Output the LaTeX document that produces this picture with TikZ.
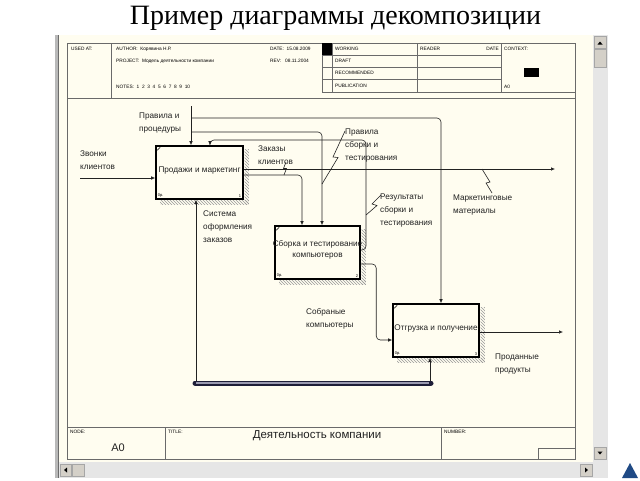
\documentclass[tikz,border=0pt]{standalone}
\usepackage{fontspec}
\setmainfont{Liberation Sans}
\newfontfamily\titlefont{Liberation Serif}
\usetikzlibrary{arrows.meta,patterns,calc}

\definecolor{cream}{HTML}{FFFDF0}
\definecolor{sbgray}{HTML}{E6E6E6}
\definecolor{btn}{HTML}{D4D0C8}
\definecolor{navy}{HTML}{1F4A85}
\definecolor{framecol}{HTML}{6A6A6A}
\definecolor{darkbar}{HTML}{1E1E38}
\definecolor{lightbar}{HTML}{9A9AB0}
\definecolor{ink}{HTML}{222222}

\begin{document}
\begin{tikzpicture}[x=1pt,y=-1pt,
  box/.style={draw=black, line width=1.6pt, fill=cream, inner sep=0pt},
  boxtxt/.style={inner sep=0pt, align=center, font=\fontsize{8.2}{11}\selectfont, text=ink},
  lbl/.style={anchor=north west, inner sep=0pt, align=left, font=\fontsize{8.2}{12.8}\selectfont, text=ink},
  arr/.style={draw=ink, line width=0.6pt, rounded corners=4pt, -{Latex[length=4pt,width=3.5pt]}},
  sq/.style={draw=ink, line width=0.6pt},
  hdr/.style={anchor=west, inner sep=0pt, font=\fontsize{4.8}{5}\selectfont},
  tiny/.style={inner sep=0.5pt, font=\fontsize{4}{4}\selectfont},
  fr/.style={draw=framecol, line width=0.7pt},
  shad/.style={pattern=north west lines, pattern color=gray!80},
  sbbtn/.style={fill=btn, draw=gray!70, line width=0.4pt},
]
\useasboundingbox (0,0) rectangle (640,480);
\fill[white] (0,0) rectangle (640,480);

% title
\node[font=\titlefont\fontsize{28}{30}\selectfont] (title) at (335.5,18) {Пример диаграммы декомпозиции};

% window
\fill[cream] (59,35) rectangle (593,462);
\fill[gray!55] (55,35) rectangle (59,478);
\draw[gray!85!black, line width=0.8pt] (58.6,35) -- (58.6,478);
\fill[sbgray] (593,35) rectangle (608,478);
\fill[sbgray] (59,462) rectangle (593,478);
\draw[sbbtn] (594,36) rectangle (606,48);
\fill (597.5,44.5) -- (602.5,44.5) -- (600,41.5) -- cycle;
\draw[sbbtn] (594,49) rectangle (606,67);
\draw[sbbtn] (594,447) rectangle (606,459);
\fill (597.5,451.5) -- (602.5,451.5) -- (600,454.5) -- cycle;
\draw[sbbtn] (60,464) rectangle (71,476);
\fill (64,470) -- (67,467.5) -- (67,472.5) -- cycle;
\draw[sbbtn] (72,464) rectangle (84,476);
\draw[sbbtn] (580,464) rectangle (592,476);
\fill (588,470) -- (585,467.5) -- (585,472.5) -- cycle;
\fill[navy] (622,478) -- (638,478) -- (630,463) -- cycle;

% frame
\draw[fr] (67,43) rectangle (575,459);
\draw[fr] (67,98) -- (575,98);
\draw[fr] (111,43) -- (111,98);
\foreach \xx in {322,332,417,501} \draw[fr] (\xx,43) -- (\xx,92);
\foreach \yy in {55,67,79} \draw[fr] (322,\yy) -- (501,\yy);
\draw[fr] (322,92) -- (575,92);
\fill (322,43) rectangle (332,55);
\fill (524,68) rectangle (539,77);
\draw[fr] (67,427) -- (575,427);
\draw[fr] (165,427) -- (165,459);
\draw[fr] (441,427) -- (441,459);
\draw[fr] (538,448) rectangle (575,459);

% header texts
\node[hdr] (h1) at (71,49) {USED AT:};
\node[hdr] (h2) at (116,49) {AUTHOR:\ \ Корявина Н.Р.};
\node[hdr] (h3) at (270,49) {DATE:\ \ 15.08.2009};
\node[hdr] (h4) at (116,61) {PROJECT:\ \ Модель деятельности компании};
\node[hdr] (h5) at (270,61) {REV:\ \ \ 08.11.2004};
\node[hdr] (h6) at (116,87) {NOTES:\ \ 1\ \ 2\ \ 3\ \ 4\ \ 5\ \ 6\ \ 7\ \ 8\ \ 9\ \ 10};
\node[hdr] (h7) at (335,49) {WORKING};
\node[hdr] (h8) at (335,61) {DRAFT};
\node[hdr] (h9) at (335,73) {RECOMMENDED};
\node[hdr] (h10) at (335,86) {PUBLICATION};
\node[hdr] (h11) at (420,49) {READER};
\node[hdr,anchor=east] (h12) at (499,49) {DATE};
\node[hdr] (h13) at (504,49) {CONTEXT:};
\node[hdr] (h14) at (504,87) {A0};
\node[hdr] (f1) at (70,432) {NODE:};
\node[hdr] (f2) at (168,432) {TITLE:};
\node[hdr] (f3) at (444,432) {NUMBER:};
\node[font=\fontsize{11}{12}\selectfont, text=ink] (a0) at (118,448) {A0};
\node[font=\fontsize{11.5}{12}\selectfont, text=ink] (ttl) at (317,436) {Деятельность компании};

% boxes
\node[box, minimum width=87pt, minimum height=53pt] (b1) at (199.5,172.5) {};
\node[box, minimum width=85pt, minimum height=53pt] (b2) at (317.5,252.5) {};
\node[box, minimum width=86pt, minimum height=53pt] (b3) at (436,330.5) {};
\foreach \b/\n in {b1/1,b2/2,b3/3}{
  \fill[shad] ($(\b.north east)+(0.8,4)$) rectangle ($(\b.south east)+(5,5)$);
  \fill[shad] ($(\b.south west)+(5,0.8)$) rectangle ($(\b.south east)+(5,5)$);
  \draw[line width=0.5pt] ($(\b.north west)+(2,5)$) -- ($(\b.north west)+(5,2)$);
  \node[tiny, anchor=south west] at ($(\b.south west)+(2,-1.5)$) {0р.};
  \node[tiny, anchor=south east] at ($(\b.south east)+(-2,-1.5)$) {\n};
}
\node[boxtxt] (t1) at ($(b1.center)+(0,-2)$) {Продажи и маркетинг};
\node[boxtxt] (t2) at ($(b2.center)+(0,-3)$) {Сборка и тестирование\\компьютеров};
\node[boxtxt] (t3) at ($(b3.center)+(0,-2)$) {Отгрузка и получение};

% labels
\node[lbl] (l1) at (80,151) {Звонки\\клиентов};
\node[lbl] (l2) at (139,113) {Правила и\\процедуры};
\node[lbl] (l3) at (258,146) {Заказы\\клиентов};
\node[lbl] (l4) at (345,129) {Правила\\сборки и\\тестирования};
\node[lbl] (l5) at (203,211) {Система\\оформления\\заказов};
\node[lbl] (l6) at (380,194) {Результаты\\сборки и\\тестирования};
\node[lbl] (l7) at (453,195) {Маркетинговые\\материалы};
\node[lbl] (l8) at (306,308) {Собраные\\компьютеры};
\node[lbl] (l9) at (495,354) {Проданные\\продукты};

% connectors
\coordinate (in1) at (80,178);
\draw[arr] (in1) -- (in1 -| b1.west);
\coordinate (ctl) at (191,106);
\draw[arr] (ctl) -- (ctl |- b1.north);
\coordinate (ctlA) at (191,118);
\draw[arr] (ctlA) -| ($(b3.north)+(5,0)$);
\coordinate (ctlB) at (191,132);
\draw[arr] (ctlB) -| ($(b2.north)+(4.5,0)$);
\draw[arr] ($(b2.east)+(0,-2.5)$) -| (366,140) -| ($(b1.north)+(10.5,0)$);
\draw[arr] ($(b1.east)+(0,2.5)$) -| ($(b2.north)+(-15.5,0)$);
\coordinate (mm) at (555,169);
\draw[arr] ($(b1.east)+(0,-3.5)$) -- (mm);
\draw[arr] ($(b2.east)+(0,11.5)$) -| ($(b3.west)+(-16,9.5)$) -- ($(b3.west)+(0,9.5)$);
\coordinate (out3) at (563,332);
\draw[arr] ($(b3.east)+(0,1.5)$) -- (out3);

\coordinate (barL) at (195,383);
\coordinate (barR) at (431,383);
\draw[arr] ($(barL)+(1,0)$) -- ($(b1.south)+(-3.5,0)$);
\draw[arr] ($(barR)+(-1,0)$) -- ($(b3.south)+(-6,0)$);
\draw[line width=5pt, darkbar, line cap=round] (barL) -- (barR);
\draw[line width=1.3pt, lightbar] ($(barL)+(1,0)$) -- ($(barR)+(-2,0)$);

% squiggles
\draw[sq] (286,162) -- (283.5,168.5) -- (286.5,168.5) -- (284,175);
\draw[sq] (345,131) -- (333,157) -- (338,157.5) -- (322,184);
\draw[sq] (381,195) -- (372,204) -- (377,205.5) -- (366,215);
\draw[sq] (492,193) -- (486,183) -- (490,182) -- (482,169);
\end{tikzpicture}
\end{document}
